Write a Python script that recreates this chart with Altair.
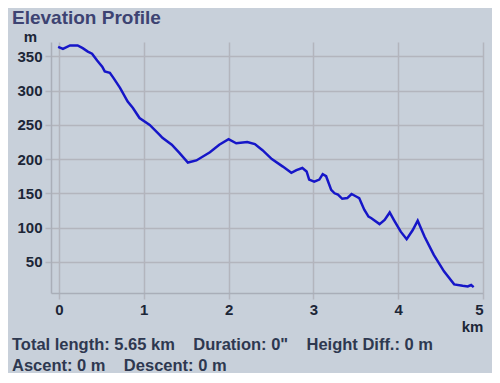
import altair as alt
import pandas as pd

# distance along track (km) and elevation (m)
km = [-0.01, 0.047, 0.13, 0.22, 0.28, 0.34, 0.39, 0.45, 0.51, 0.54, 0.60, 0.64, 0.72, 0.81, 0.87, 0.95,
      1.07, 1.19, 1.22, 1.33, 1.42, 1.52, 1.62, 1.78, 1.89, 2.00, 2.09, 2.22, 2.31, 2.40, 2.51, 2.64,
      2.74, 2.80, 2.87, 2.92, 2.95, 3.01, 3.07, 3.11, 3.15, 3.21, 3.25, 3.29, 3.34, 3.40, 3.45, 3.51,
      3.54, 3.60, 3.65, 3.68, 3.78, 3.84, 3.90, 3.95, 4.03, 4.10, 4.17, 4.23, 4.31, 4.42, 4.54, 4.66,
      4.76, 4.82, 4.86, 4.89]
elev = [364, 361, 366, 366, 362, 357, 354, 344, 335, 328, 326, 319, 304, 284, 275, 260,
        250, 235, 231, 221, 209, 195, 198, 210, 221, 229, 223, 225, 222, 213, 200, 189,
        180, 184, 187, 182, 170, 167, 170, 178, 175, 155, 150, 148, 142, 143, 149, 145,
        143, 126, 116, 114, 105, 111, 122, 111, 94, 83, 96, 110, 87, 60, 36, 17,
        15, 14, 16, 13]

x_ticks = [0, 1, 2, 3, 4, 5]
y_ticks = [50, 100, 150, 200, 250, 300, 350]

SP = "\u00a0" * 4
title_text = "Elevation Profile"
footer1 = "Total length: 5.65 km" + SP + "Duration: 0\"" + SP + "Height Diff.: 0 m"
footer2 = "Ascent: 0 m" + SP + "Descent: 0 m"

df = pd.DataFrame({"km": km, "elev": elev, "i": range(len(km))})

FONT = "Liberation Sans"
LABEL = "#1c2637"

line = alt.Chart(df).mark_line(color="#1616c8", strokeWidth=2.5).encode(
    x=alt.X("km:Q", scale=alt.Scale(domain=[-0.094, 5.0], nice=False, zero=False),
            axis=alt.Axis(values=x_ticks, title="km", titleAngle=0, titleX=421, titleY=33,
                          titleAlign="center", titleBaseline="middle", format="d")),
    y=alt.Y("elev:Q", scale=alt.Scale(domain=[4.4, 371], nice=False, zero=False),
            axis=alt.Axis(values=y_ticks, title="m", titleAngle=0, titleX=-21, titleY=-6,
                          titleAlign="center", titleBaseline="middle", format="d")),
    order="i:Q",
)

blank = alt.Data(values=[{}])

title = alt.Chart(blank).mark_text(
    text=title_text, x=-39, y=-18, align="left", baseline="alphabetic",
    font=FONT, fontSize=19, fontWeight="bold", color="#3d4372")
f1 = alt.Chart(blank).mark_text(
    text=footer1, x=-39, y=308, align="left", baseline="alphabetic",
    font=FONT, fontSize=16.5, fontWeight="bold", color="#2e3850")
f2 = alt.Chart(blank).mark_text(
    text=footer2, x=-39, y=329, align="left", baseline="alphabetic",
    font=FONT, fontSize=16.5, fontWeight="bold", color="#2e3850")

chart = alt.layer(line, title, f1, f2).properties(
    width=432, height=251,
    autosize=alt.AutoSizeParams(type="none"),
    padding={"left": 43, "top": 34, "right": 9, "bottom": 80},
    background="#c8d0da",
).configure_view(
    fill="#e2e9ed", stroke=None
).configure_axis(
    grid=True, gridColor="#b3b5bd", gridWidth=1.5,
    domain=True, domainColor="#a9aeb8", domainWidth=1.5,
    ticks=True, tickColor="#b3b5bd", tickSize=6, tickWidth=1.5,
    labelFont=FONT, labelFontSize=15, labelFontWeight="bold", labelColor=LABEL,
    titleFont=FONT, titleFontSize=15, titleFontWeight="bold", titleColor=LABEL,
).configure_axisX(labelPadding=3).configure_axisY(labelPadding=3)

chart.save("out.html", embed_options={"renderer": "svg", "actions": False})
